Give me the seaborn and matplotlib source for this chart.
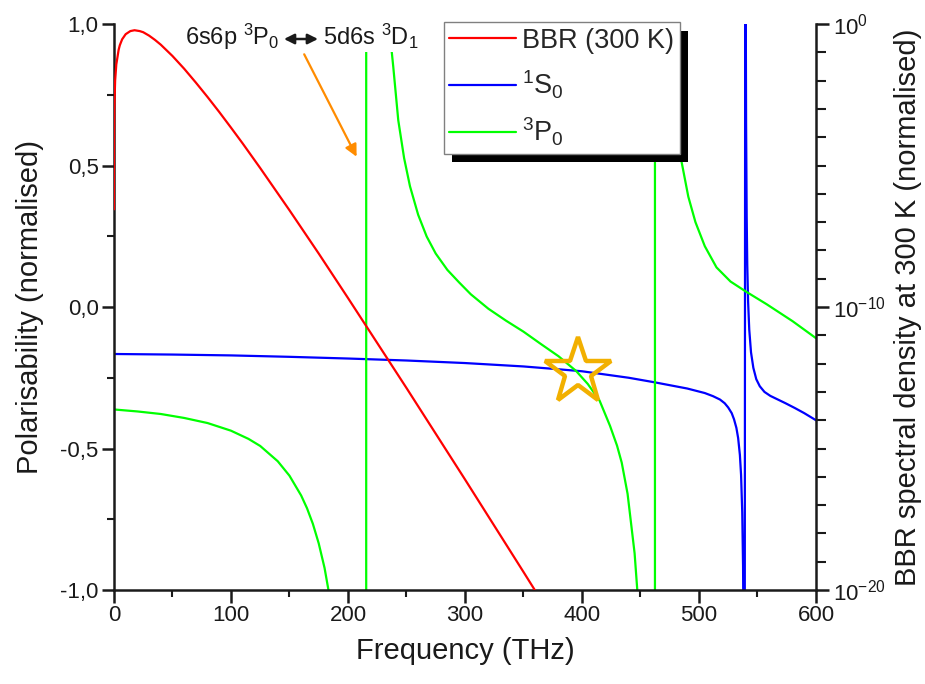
import matplotlib
matplotlib.use("Agg")
import matplotlib.pyplot as plt
import seaborn as sns
import numpy as np
from matplotlib.patches import Rectangle
from matplotlib.lines import Line2D
from matplotlib.ticker import FixedLocator, FuncFormatter, MultipleLocator

# BBR spectral density at 300 K (log10 of normalised value)
freq_bbr = [0.005, 0.02, 0.1, 0.3, 1, 2, 4, 5, 7, 10, 14, 17.6, 22, 25, 30, 35, 40, 45, 50, 60,
            70, 80, 90, 100, 110, 125, 150, 175, 200, 250, 300, 350, 365]
log_bbr = [-6.55, -5.35, -3.95, -3.0, -2.0, -1.43, -0.91, -0.75, -0.54, -0.36, -0.25, -0.22,
           -0.25, -0.29, -0.41, -0.56, -0.73, -0.93, -1.13, -1.58, -2.07, -2.58, -3.11, -3.66,
           -4.22, -5.09, -6.58, -8.11, -9.68, -12.86, -16.09, -19.36, -20.35]

# 1S0 polarisability (normalised)
freq_1s0 = [0, 50, 100, 150, 200, 250, 300, 350, 380, 400, 440, 462, 490, 505, 512, 518, 522,
            525, 528, 530, 532, 533.5, 535, 536, 537, 537.7, 538.3, 538.9, 539.7, 540.0, 540.3,
            540.8, 541.3, 542.0, 543.0, 544.5, 546.5, 549.0, 552, 556, 561, 567, 574, 582, 590,
            600]
alpha_1s0 = [-0.166, -0.168, -0.171, -0.176, -0.182, -0.189, -0.198, -0.210, -0.220, -0.227,
             -0.250, -0.266, -0.288, -0.304, -0.315, -0.327, -0.340, -0.355, -0.375, -0.397,
             -0.427, -0.463, -0.523, -0.593, -0.725, -0.915, -1.29, -2.79, 2.15, 1.08, 0.65,
             0.32, 0.15, 0.02, -0.08, -0.16, -0.215, -0.255, -0.28, -0.30, -0.314, -0.326,
             -0.34, -0.357, -0.375, -0.40]

# 3P0 polarisability (normalised)
freq_3p0 = [0, 20, 40, 60, 80, 100, 115, 125, 140, 150, 160, 165, 170, 175, 180, 185, 195, 205,
            212, 215.3, 215.9, 217, 220, 226, 232, 236, 238.7, 243, 248, 253, 260, 267.3, 275,
            285, 295, 305, 320, 335, 350, 365, 380, 395, 405, 415, 424, 430, 434, 439, 445,
            447.3, 451, 455, 459, 462.2, 462.6, 465, 468, 472, 476, 480, 485.2, 490.9, 497, 505,
            515, 527, 540, 557.8, 580, 600]
alpha_3p0 = [-0.362, -0.369, -0.378, -0.392, -0.410, -0.437, -0.466, -0.491, -0.545, -0.596,
             -0.666, -0.711, -0.766, -0.835, -0.922, -1.039, -1.442, -2.605, -7.27, -80, 80,
             17, 5.24, 2.09, 1.25, 0.96, 0.85, 0.66, 0.526, 0.427, 0.326, 0.249, 0.189, 0.131,
             0.087, 0.045, -0.006, -0.048, -0.087, -0.131, -0.174, -0.226, -0.272, -0.33,
             -0.42, -0.49, -0.55, -0.66, -0.87, -1.0, -1.31, -2.0, -4.3, -80, 80, 5.3, 2.45,
             1.38, 0.95, 0.72, 0.512, 0.39, 0.30, 0.215, 0.14, 0.09, 0.055, 0.01, -0.05, -0.11]

# magic crossing marked by the star
magic_freq = [396.6]
magic_alpha = [-0.23]

sns.set_theme(style="ticks")
plt.rcParams["font.family"] = ["Liberation Sans", "DejaVu Sans"]
plt.rcParams["mathtext.fontset"] = "custom"
plt.rcParams["mathtext.rm"] = "Liberation Sans"
plt.rcParams["mathtext.it"] = "Liberation Sans:italic"
plt.rcParams["mathtext.bf"] = "Liberation Sans:bold"

fig = plt.figure(figsize=(9.25, 6.84), dpi=100)
ax = fig.add_axes([0.1232, 0.1374, 0.7589, 0.8275])
ax2 = ax.twinx()

sns.lineplot(x=freq_1s0, y=alpha_1s0, ax=ax, color="#0000FF", lw=1.6, sort=False, estimator=None)
sns.lineplot(x=freq_3p0, y=alpha_3p0, ax=ax, color="#00FF00", lw=1.6, sort=False, estimator=None)
ax.plot(magic_freq, magic_alpha, marker="*", ms=50, mfc="none", mec="#F2B000", mew=3.2,
        ls="none", zorder=4)

bbr_vals = [10.0 ** v for v in log_bbr]
sns.lineplot(x=freq_bbr, y=bbr_vals, ax=ax2, color="#FF0000", lw=1.6, sort=False, estimator=None)

ax.set_xlim(0, 600)
ax.set_ylim(-1, 1)
ax2.set_yscale("log")
ax2.set_ylim(1e-20, 1)

# left axis
ax.xaxis.set_major_locator(MultipleLocator(100))
ax.xaxis.set_minor_locator(MultipleLocator(50))
ax.yaxis.set_major_locator(MultipleLocator(0.5))
ax.yaxis.set_minor_locator(MultipleLocator(0.25))
ax.yaxis.set_major_formatter(FuncFormatter(lambda v, p: f"{v:.1f}".replace(".", ",")))
ax.tick_params(which="major", direction="out", length=9, width=1.8, labelsize=16, pad=2,
               color="k", labelcolor="k")
ax.tick_params(which="minor", direction="out", length=5, width=1.5, color="k")
for s in ["top", "right"]:
    ax.spines[s].set_visible(False)
for s in ["left", "bottom"]:
    ax.spines[s].set_linewidth(1.8)
    ax.spines[s].set_color("k")

# right axis
ax2.yaxis.set_major_locator(FixedLocator([1e-20, 1e-10, 1.0]))
ax2.yaxis.set_minor_locator(FixedLocator([10.0 ** -k for k in range(21)]))
ax2.yaxis.set_major_formatter(FuncFormatter(lambda v, p: r"10$^{%d}$" % round(np.log10(v))))
ax2.yaxis.set_minor_formatter(FuncFormatter(lambda v, p: ""))
ax2.tick_params(which="major", direction="out", length=9, width=1.8, labelsize=16, pad=3,
                color="k", labelcolor="k")
ax2.tick_params(which="minor", direction="out", length=7, width=1.5, color="k")
for s in ["top", "left", "bottom"]:
    ax2.spines[s].set_visible(False)
ax2.spines["right"].set_linewidth(1.8)
ax2.spines["right"].set_color("k")

ax.set_xlabel("Frequency (THz)", fontsize=21, labelpad=8, color="k")
ax.set_ylabel("Polarisability (normalised)", fontsize=21, labelpad=12, color="k")
ax2.set_ylabel("BBR spectral density at 300 K (normalised)", fontsize=21, labelpad=6, color="k")

# transition label with white backing
ax2.add_patch(Rectangle((56, 0.901), 202, 0.12, transform=ax.transData, facecolor="white",
                        edgecolor="none", zorder=3))
ax2.text(60.7, 0.926, r"6s6p $^3$P$_0$", transform=ax.transData, fontsize=17, zorder=4,
         va="baseline", color="k")
ax2.text(178.6, 0.926, r"5d6s $^3$D$_1$", transform=ax.transData, fontsize=17, zorder=4,
         va="baseline", color="k")
ax2.annotate("", xy=(174.4, 0.947), xytext=(145.3, 0.947), xycoords=ax.transData,
             textcoords=ax.transData,
             arrowprops=dict(arrowstyle="<|-|>", color="k", lw=1.8, mutation_scale=15,
                             shrinkA=0, shrinkB=0), zorder=4)
ax2.annotate("", xy=(207.4, 0.531), xytext=(162.6, 0.893), xycoords=ax.transData,
             textcoords=ax.transData,
             arrowprops=dict(arrowstyle="-|>", color="#FF8C00", lw=1.6, mutation_scale=18,
                             shrinkA=0, shrinkB=0), zorder=4)

handles = [Line2D([], [], color="#FF0000", lw=1.6),
           Line2D([], [], color="#0000FF", lw=1.6),
           Line2D([], [], color="#00FF00", lw=1.6)]
labels = ["BBR (300 K)", r"$^1$S$_0$", r"$^3$P$_0$"]
leg = ax2.legend(handles, labels, loc="upper left", bbox_to_anchor=(0.470, 1.003), fontsize=19.5,
                 frameon=True, fancybox=False, framealpha=1, edgecolor="#808080",
                 borderpad=0.2, labelspacing=0.55, handlelength=2.45, handletextpad=0.25,
                 borderaxespad=0)
leg.get_frame().set_linewidth(1.0)
leg.set_zorder(6)

fig.canvas.draw()
bb = leg.get_window_extent()
inv = ax2.transAxes.inverted()
x0, y0 = inv.transform((bb.x0 + 8.5, bb.y0 - 8.5))
x1, y1 = inv.transform((bb.x1 + 8.5, bb.y1 - 8.5))
ax2.add_patch(Rectangle((x0, y0), x1 - x0, y1 - y0, transform=ax2.transAxes, facecolor="black",
                        edgecolor="none", zorder=5.5, clip_on=False))

fig.savefig("out.png", dpi=100)
